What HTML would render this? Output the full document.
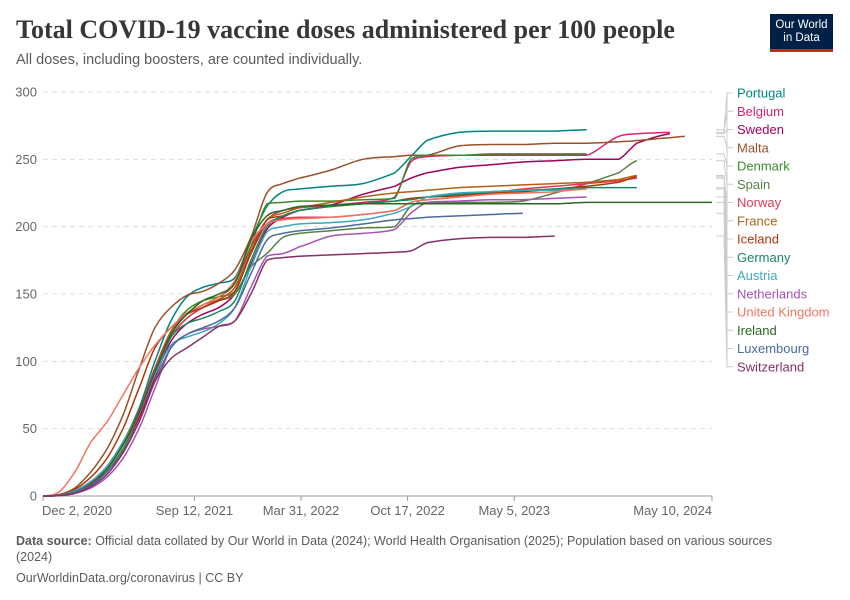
<!DOCTYPE html>
<html><head><meta charset="utf-8"><style>
body{margin:0;background:#fff;font-family:"Liberation Sans",sans-serif;}
#wrap{position:relative;width:850px;height:600px;overflow:hidden;}
.t{position:absolute;white-space:nowrap;}
</style></head><body>
<div id="wrap">
<div class="t" style="left:16px;top:15px;font-family:'Liberation Serif',serif;font-weight:bold;font-size:26px;color:#373737;">Total COVID-19 vaccine doses administered per 100 people</div>
<div class="t" style="left:16px;top:52px;font-size:14.5px;color:#5b5b5b;">All doses, including boosters, are counted individually.</div>
<div style="position:absolute;left:770px;top:14px;width:63px;height:38px;background:#002147;border-bottom:3px solid #ce261e;box-sizing:border-box;color:#fff;font-size:11.5px;line-height:13px;text-align:center;padding-top:5px;">Our World<br>in Data</div>
<svg id="chart" width="850" height="600" style="position:absolute;left:0;top:0"></svg>
<div class="t" style="left:16px;top:533px;font-size:12.5px;color:#5b5b5b;line-height:16px;white-space:normal;width:780px;"><b>Data source:</b> Official data collated by Our World in Data (2024); World Health Organisation (2025); Population based on various sources (2024)</div>
<div class="t" style="left:16px;top:571px;font-size:12.5px;color:#5b5b5b;">OurWorldinData.org/coronavirus | CC BY</div>
</div>
<script>
const days=[0,30,60,90,120,150,180,210,240,270,300,330,360,390,420,450,480,540,600,660,690,720,780,840,900,960,1020,1080,1114,1176,1204,1255];
const N=null;
const names=["Portugal","Belgium","Sweden","Malta","Denmark","Spain","Norway","France","Iceland","Germany","Austria","Netherlands","United Kingdom","Ireland","Luxembourg","Switzerland"];
const colors=["#00847e","#d6246e","#a2005c","#9a5129","#3c8a2e","#578145","#e0385a","#b16214","#b13507","#18895e","#38aaba","#a652ba","#f07562","#286b20","#4c6a9c","#883063"];
const sPortugal=[0,0.5,3,10,22,40,65,100,130,148,155,158,162,190,215,226,228,230,232,240,252,264,270,271,271,271,272,N,N,N,N,N];
const sBelgium=[0,0.5,3,10,22,40,63,95,122,135,142,148,158,185,205,212,214,216,218,222,248,252,253,253,253,253,253,267,269,270,N,N];
const sSweden=[0,0.3,2,8,18,35,58,88,115,128,135,140,150,172,198,207,212,216,224,230,236,240,244,246,248,249,250,250,262,269,N,N];
const sMalta=[0,1,6,18,35,60,94,125,140,149,152,158,168,192,225,232,236,242,250,252,253,253,260,261,261,262,262,263,264,266,267,N];
const sDenmark=[0,0.5,3,8,18,35,60,92,122,138,145,148,152,185,217,218,219,219,220,221,250,253,253,254,254,254,254,N,N,N,N,N];
const sSpain=[0,0.5,3,9,20,38,62,92,118,132,140,145,150,170,180,192,195,197,199,200,215,218,218,218,219,225,232,240,249,N,N,N];
const sNorway=[0,0.5,3,9,20,38,60,90,118,132,140,146,155,180,202,206,207,207,209,212,218,220,222,225,228,230,232,234,236,N,N,N];
const sFrance=[0,0.5,3,9,20,38,62,93,122,135,142,146,155,182,205,210,214,218,222,225,226,227,229,230,231,232,233,235,238,N,N,N];
const sIceland=[0,1,5,14,28,50,80,110,125,135,140,145,152,180,205,208,212,215,217,219,221,222,223,225,226,228,230,233,237,N,N,N];
const sGermany=[0,0.5,3,9,20,38,62,92,118,128,132,137,145,175,200,208,212,215,217,219,220,222,224,226,227,228,229,229,229,N,N,N];
const sAustria=[0,0.5,4,11,22,40,62,90,112,118,122,128,140,170,196,200,202,203,205,210,215,222,225,226,227,227,228,N,N,N,N,N];
const sNetherlands=[0,0.3,2,6,14,28,50,80,110,120,124,126,130,155,178,180,185,193,195,198,210,218,219,220,220,221,222,N,N,N,N,N];
const sUK=[0,3,18,40,55,75,95,112,125,136,142,148,160,188,202,205,206,207,209,212,218,220,222,224,225,226,228,N,N,N,N,N];
const sIreland=[0,0.5,3,9,20,38,62,92,120,135,145,150,158,190,208,212,215,216,217,217,217,217,217,217,217,217,218,218,218,218,218,218];
const sLuxembourg=[0,0.5,3,8,18,33,55,85,110,120,125,130,140,165,190,195,197,199,202,205,206,207,208,209,210,N,N,N,N,N,N,N];
const sSwitzerland=[0,0.3,2,7,16,32,55,85,102,110,118,126,130,150,175,177,178,179,180,181,182,188,191,192,192,193,N,N,N,N,N,N];
const series=[sPortugal,sBelgium,sSweden,sMalta,sDenmark,sSpain,sNorway,sFrance,sIceland,sGermany,sAustria,sNetherlands,sUK,sIreland,sLuxembourg,sSwitzerland];
const yTicks=[0,50,100,150,200,250,300];
const xTickDays=[0,284,484,684,884,1255];
const xTickLabels=["Dec 2, 2020","Sep 12, 2021","Mar 31, 2022","Oct 17, 2022","May 5, 2023","May 10, 2024"];

const svg=document.getElementById('chart');const NS="http://www.w3.org/2000/svg";
const X0=43,X1=712,Y0=496,Y1=92,DMAX=1255,VMAX=300;
const xs=d=>X0+d/DMAX*(X1-X0);
const ys=v=>Y0-v/VMAX*(Y0-Y1);
function mk(tag,attrs){const e=document.createElementNS(NS,tag);for(const k in attrs)e.setAttribute(k,attrs[k]);svg.appendChild(e);return e;}
yTicks.forEach(v=>{
  if(v>0){const g=mk('line',{x1:X0,x2:X1,y1:ys(v),y2:ys(v),stroke:'#ddd','stroke-dasharray':'5,4'});
  
  }
  const t=mk('text',{x:37,y:ys(v)+4.5,'text-anchor':'end','font-size':13,fill:'#666','font-family':'Liberation Sans, sans-serif'});
  t.textContent=v;
  
  
});
const ax=mk('line',{x1:X0,x2:X1,y1:Y0,y2:Y0,stroke:'#999'});


xTickDays.forEach((d,i)=>{
  const tk=mk('line',{x1:xs(d),x2:xs(d),y1:Y0,y2:Y0+5,stroke:'#999'});
  
  
  const anchor=i==0?'start':(i==xTickDays.length-1?'end':'middle');
  const t=mk('text',{x:i==0?xs(d)-1:xs(d),y:Y0+19,'text-anchor':anchor,'font-size':13,fill:'#666','font-family':'Liberation Sans, sans-serif'});
  t.textContent=xTickLabels[i];
  
  
});
function smoothPath(p){
  if(p.length<2)return '';
  let d='M'+p[0][0].toFixed(1)+','+p[0][1].toFixed(1);
  for(let i=0;i<p.length-1;i++){
    const p0=p[Math.max(0,i-1)],p1=p[i],p2=p[i+1],p3=p[Math.min(p.length-1,i+2)];
    const k=0.16;
    let c1y=p1[1]+(p2[1]-p0[1])*k, c2y=p2[1]-(p3[1]-p1[1])*k;
    const lo=Math.min(p1[1],p2[1]),hi=Math.max(p1[1],p2[1]);
    c1y=Math.min(hi,Math.max(lo,c1y));c2y=Math.min(hi,Math.max(lo,c2y));
    const c1x=p1[0]+(p2[0]-p1[0])/3,c2x=p2[0]-(p2[0]-p1[0])/3;
    d+=' C'+c1x.toFixed(1)+','+c1y.toFixed(1)+' '+c2x.toFixed(1)+','+c2y.toFixed(1)+' '+p2[0].toFixed(1)+','+p2[1].toFixed(1);
  }
  return d;
}
const ends=[];
series.forEach((s,i)=>{
  let pts=[];let last=null;
  s.forEach((v,j)=>{if(v!==null){pts.push([xs(days[j]),ys(v)]);last=[xs(days[j]),ys(v)];}});
  const p=mk('path',{d:smoothPath(pts),fill:'none',stroke:colors[i],'stroke-width':1.5,'stroke-linejoin':'round'});
  
  
  ends.push(last);
});
const vline=mk('line',{x1:727,x2:727,y1:93,y2:367,stroke:'#ccc'});


names.forEach((n,i)=>{
  const ly=93+i*18.25;
  const ey=ends[i][1];
  const c=mk('polyline',{points:`716,${ey.toFixed(1)} 724,${ey.toFixed(1)} 727,${ly} 733,${ly}`,fill:'none',stroke:'#ccc','stroke-width':1});
  
  
  const t=mk('text',{x:737,y:ly+4.5,'font-size':13,fill:colors[i],'font-family':'Liberation Sans, sans-serif'});
  t.textContent=n;
  
  
});
</script>
</body></html>
